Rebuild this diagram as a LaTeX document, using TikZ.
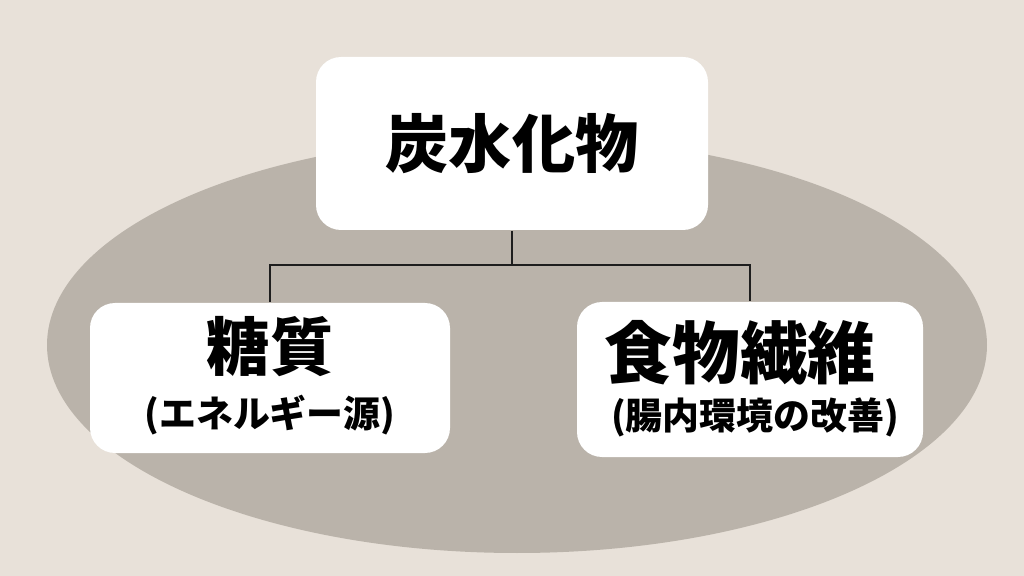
\documentclass[tikz,border=0pt]{standalone}
\usepackage{fontspec}
\newfontfamily\jpfont{Noto Sans CJK JP}
\definecolor{bgcol}{HTML}{E8E1D9}
\definecolor{ovalcol}{HTML}{BAB3AA}
\definecolor{linecol}{HTML}{1E1E1E}
\tikzset{
  card/.style={fill=white, rounded corners=0.5cm, inner sep=0pt},
  bigtxt/.style={font=\jpfont\bfseries\fontsize{36}{40}\selectfont, inner sep=0pt},
  smalltxt/.style={font=\jpfont\bfseries\fontsize{21}{24}\selectfont, inner sep=0pt}
}
\begin{document}
\begin{tikzpicture}[line width=0.9pt]
\fill[bgcol] (0,0) rectangle (20.48,-11.52);
\fill[ovalcol] (10.34,-6.9) ellipse [x radius=9.4, y radius=4.16];

\node[card, minimum width=7.84cm, minimum height=3.46cm] (carb) at (10.24,-2.87) {};
\node[card, minimum width=7.2cm, minimum height=3.0cm] (sugar) at (5.4,-7.56) {};
\node[card, minimum width=6.92cm, minimum height=3.1cm] (fiber) at (15.0,-7.59) {};

\node[bigtxt] (carb-t) at (carb.center) {炭水化物};
\node[bigtxt] (sugar-t) at ([yshift=0.62cm]sugar.center) {糖質};
\node[smalltxt] (sugar-s) at ([yshift=-0.74cm]sugar.center) {(エネルギー源)};
\node[bigtxt, font=\jpfont\bfseries\fontsize{38.5}{42}\selectfont] (fiber-t) at ([xshift=-0.2cm, yshift=0.53cm]fiber.center) {食物繊維};
\node[smalltxt] (fiber-s) at ([xshift=0.1cm, yshift=-0.75cm]fiber.center) {(腸内環境の改善)};

\coordinate (split) at (10.24,-5.3);
\draw[linecol] (carb.south) -- (split);
\draw[linecol] (sugar.north) |- (split) -| (fiber.north);

\end{tikzpicture}
\end{document}
